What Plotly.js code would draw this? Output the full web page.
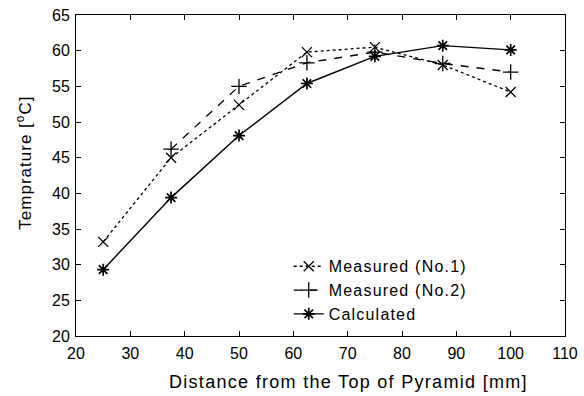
<!DOCTYPE html>
<html><head><meta charset="utf-8">
<script src="https://cdn.plot.ly/plotly-3.0.1.min.js"></script>
<style>html,body{margin:0;padding:0;background:#fff}#c{width:584px;height:396px}
.annotation[data-index="0"] text{letter-spacing:1.3px}
.annotation[data-index="1"] text{letter-spacing:1px}
.legendtext{letter-spacing:1.2px}
</style>
</head><body><div id="c"></div>
<script>
const xAll = [25, 37.5, 50, 62.5, 75, 87.5, 100];
const measured1 = [33.2, 45.0, 52.4, 59.8, 60.5, 58.0, 54.2];
const x2 = [37.5, 50, 62.5, 75, 87.5, 100];
const measured2 = [46.2, 55.0, 58.3, 59.8, 58.2, 57.0];
const calculated = [29.3, 39.4, 48.1, 55.4, 59.2, 60.7, 60.1];
const names = ["Measured (No.1)", "Measured (No.2)", "Calculated"];
const xTicks = [20,30,40,50,60,70,80,90,100,110];
const yTicks = [20,25,30,35,40,45,50,55,60,65];
const xTitle = 'Distance from the Top of Pyramid [mm]';
const yTitle = 'Temprature [<sup>o</sup>C]';

const FONT = 'Liberation Sans, Arial, Helvetica, sans-serif';
const traces = [
  {x: xAll, y: measured1, name: names[0], mode: 'lines+markers',
   line: {color: '#000', width: 1.3, dash: 'dot'},
   marker: {symbol: 'x-thin-open', size: 10, color: '#000', line: {width: 1.3, color: '#000'}}},
  {x: x2, y: measured2, name: names[1], mode: 'lines+markers',
   line: {color: '#000', width: 1.3, dash: '8px,8px'},
   marker: {symbol: 'cross-thin-open', size: 11, color: '#000', line: {width: 1.3, color: '#000'}}},
  {x: xAll, y: calculated, name: names[2], mode: 'lines+markers',
   line: {color: '#000', width: 1.4},
   marker: {symbol: 'asterisk-open', size: 10, color: '#000', line: {width: 1.7, color: '#000'}}}
];

const axisCommon = {
  showline: true, linecolor: '#000', linewidth: 1, mirror: 'ticks',
  ticks: 'inside', ticklen: 5, tickcolor: '#000', showgrid: false, zeroline: false,
  tickfont: {family: FONT, size: 16, color: '#000'}
};

const layout = {
  width: 584, height: 396,
  margin: {l: 76, r: 19, t: 15, b: 60},
  paper_bgcolor: '#fff', plot_bgcolor: '#fff',
  font: {family: FONT, color: '#000'},
  xaxis: Object.assign({}, axisCommon, {range: [20, 110], tickvals: xTicks, ticklabelstandoff: 3}),
  yaxis: Object.assign({}, axisCommon, {range: [20, 65], tickvals: yTicks, ticklabelstandoff: 2}),
  annotations: [
    {text: xTitle, xref: 'paper', yref: 'paper', x: 0.558, y: -0.143, xanchor: 'center', yanchor: 'middle',
     showarrow: false, font: {size: 18, family: FONT, color: '#000'}},
    {text: yTitle, xref: 'paper', yref: 'paper', x: -0.106, y: 0.539, xanchor: 'center', yanchor: 'middle',
     textangle: -90, showarrow: false, font: {size: 17, family: FONT, color: '#000'}}
  ],
  showlegend: true,
  legend: {x: 0.435, y: 0.27, xanchor: 'left', yanchor: 'top', bgcolor: 'rgba(0,0,0,0)',
    font: {size: 16, color: '#000'}, itemwidth: 30, tracegroupgap: 0}
};

Plotly.newPlot('c', traces, layout, {displayModeBar: false, staticPlot: true});
</script></body></html>
